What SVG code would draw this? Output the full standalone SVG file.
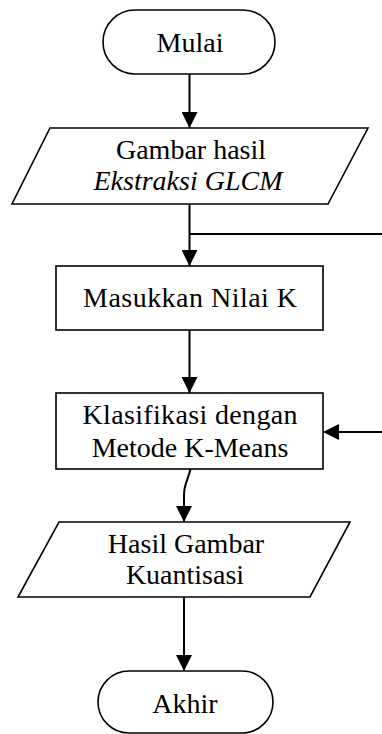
<svg xmlns="http://www.w3.org/2000/svg" width="382" height="734" viewBox="0 0 382 734">
<defs>
<style>
.shape{fill:#fff;stroke:#000;stroke-width:1.6}
.edge{fill:none;stroke:#000;stroke-width:2}
text{font-family:"Liberation Serif","Times New Roman",serif;font-size:28px;fill:#000;text-anchor:middle}
.it{font-style:italic}
</style>
<marker id="arr" markerWidth="16" markerHeight="16" viewBox="0 0 16 16" refX="16" refY="8" orient="auto" markerUnits="userSpaceOnUse">
<path d="M0,0 L16,8 L0,16 Z" fill="#000"/>
</marker>
</defs>
<rect width="382" height="734" fill="#fff"/>
<g id="connectors">
<line class="edge" x1="189.5" y1="74" x2="189.5" y2="128" marker-end="url(#arr)"/>
<line class="edge" x1="189.5" y1="204" x2="189.5" y2="266" marker-end="url(#arr)"/>
<line class="edge" x1="189.5" y1="234" x2="382" y2="234"/>
<line class="edge" x1="189.5" y1="330" x2="189.5" y2="393" marker-end="url(#arr)"/>
<line class="edge" x1="382" y1="432" x2="323" y2="432" marker-end="url(#arr)"/>
<path class="edge" d="M190.5,469 C188,480 184,484 184,495 L184,522" marker-end="url(#arr)"/>
<line class="edge" x1="184" y1="597" x2="184" y2="671" marker-end="url(#arr)"/>
</g>
<g id="mulai">
<rect class="shape" x="103" y="10" width="172" height="64" rx="32" ry="32"/>
<text x="190" y="52">Mulai</text>
</g>
<g id="gambar-hasil">
<polygon class="shape" points="50,128 368,128 328,204 12,204"/>
<text x="191" y="159">Gambar hasil</text>
<text x="188" y="190" class="it">Ekstraksi GLCM</text>
</g>
<g id="masukkan">
<rect class="shape" x="56" y="266" width="267" height="64"/>
<text x="190" y="307" textLength="214" lengthAdjust="spacing">Masukkan Nilai K</text>
</g>
<g id="klasifikasi">
<rect class="shape" x="56" y="393" width="267" height="76"/>
<text x="190" y="424" textLength="215" lengthAdjust="spacing">Klasifikasi dengan</text>
<text x="190" y="457">Metode K-Means</text>
</g>
<g id="hasil-gambar">
<polygon class="shape" points="59,522 350,522 310,597 18,597"/>
<text x="186" y="553">Hasil Gambar</text>
<text x="185" y="584">Kuantisasi</text>
</g>
<g id="akhir">
<rect class="shape" x="98" y="671" width="175" height="62" rx="31" ry="31"/>
<text x="185" y="713">Akhir</text>
</g>
</svg>
